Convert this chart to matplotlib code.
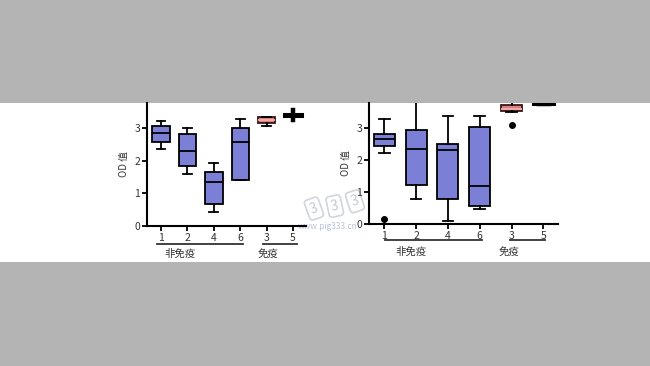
import matplotlib.pyplot as plt
from matplotlib.patches import Rectangle
import matplotlib.transforms as mtransforms

plt.rcParams['font.family'] = ['Noto Sans CJK SC', 'DejaVu Sans']

# group order on the x axis
groups = ['1', '2', '4', '6', '3', '5']

# left chart: box statistics
left_whislo = [2.35, 1.60, 0.42, 1.40, 3.07, 3.25]
left_q1 = [2.56, 1.85, 0.67, 1.41, 3.15, 3.38]
left_med = [2.84, 2.30, 1.35, 2.57, 3.24, 3.40]
left_q3 = [3.05, 2.81, 1.64, 3.00, 3.33, 3.42]
left_whishi = [3.22, 3.00, 1.94, 3.29, 3.33, 3.56]
left_fliers = [[], [], [], [], [], []]

# right chart
right_whislo = [2.21, 0.77, 0.10, 0.48, 3.50, 3.77]
right_q1 = [2.44, 1.22, 0.77, 0.56, 3.53, 3.77]
right_med = [2.66, 2.34, 2.32, 1.19, 3.61, 3.80]
right_q3 = [2.81, 2.93, 2.49, 3.04, 3.74, 3.85]
right_whishi = [3.28, 3.90, 3.39, 3.39, 3.90, 3.95]
right_fliers = [[0.17], [], [], [], [3.11], []]

non_immune = '非免疫'
immune = '免疫'
ylabel = 'OD 值'


def draw(ax, whislo, q1, med, q3, whishi, fliers, xlim, ylim,
         br1, br2, lab1, lab2, br_y, lab_y, plus_last=False):
    stats = []
    for i in range(len(groups)):
        stats.append(dict(whislo=whislo[i], q1=q1[i], med=med[i], q3=q3[i],
                          whishi=whishi[i], fliers=fliers[i]))
    pos = list(range(1, len(groups) + 1))
    parts = ax.bxp(stats, positions=pos, widths=0.66, patch_artist=True,
                   showfliers=True,
                   boxprops=dict(edgecolor='black', linewidth=1.3),
                   medianprops=dict(color='black', linewidth=1.3),
                   whiskerprops=dict(color='black', linewidth=1.3),
                   capprops=dict(color='black', linewidth=1.3),
                   flierprops=dict(marker='o', markerfacecolor='black',
                                   markeredgecolor='black', markersize=4))
    for i, b in enumerate(parts['boxes']):
        if i < 4:
            b.set_facecolor('#7b7fd6')
        elif i == 4:
            b.set_facecolor('#d97f7f')
            b.set_edgecolor('#3a1616')
        else:
            b.set_facecolor('black')
            b.set_linewidth(2.2)
    parts['medians'][4].set_color('#f2b0b0')
    parts['medians'][5].set_linewidth(2.5)
    for w in parts['whiskers'][10:]:
        w.set_linewidth(3.2)
    if plus_last:
        for c in parts['caps'][10:]:
            c.set_visible(False)
    else:
        for c in parts['caps'][10:]:
            c.set_linewidth(2.5)

    ax.set_xlim(*xlim)
    ax.set_ylim(*ylim)
    ax.set_xticks(pos)
    ax.set_xticklabels(groups)
    ax.set_yticks([0, 1, 2, 3])
    for s in ['top', 'right']:
        ax.spines[s].set_visible(False)
    for s in ['left', 'bottom']:
        ax.spines[s].set_linewidth(1.5)
    ax.tick_params(axis='both', direction='out', length=3.5, width=1.3,
                   labelsize=7.5, colors='black', labelcolor='#333333', pad=1.5)
    ax.set_ylabel(ylabel, fontsize=7, color='#333333', labelpad=4)

    trans = mtransforms.blended_transform_factory(ax.transData, ax.transAxes)
    ax.plot(br1, [br_y, br_y], color='#333333', lw=1.3, transform=trans,
            clip_on=False)
    ax.plot(br2, [br_y, br_y], color='#333333', lw=1.3, transform=trans,
            clip_on=False)
    ax.text(lab1, lab_y, non_immune, transform=trans, ha='center',
            va='center', fontsize=7.5, color='#333333')
    ax.text(lab2, lab_y, immune, transform=trans, ha='center',
            va='center', fontsize=7.5, color='#333333')


fig = plt.figure(figsize=(6.5, 3.66), dpi=100, facecolor='#b4b4b4')
fig.patches.append(Rectangle((0, 0.2842), 1, 0.4344, transform=fig.transFigure,
                             facecolor='white', edgecolor='none', zorder=-10))

# faint watermark tiles
for wx, wy, rot in [(0.483, 0.43, 20), (0.515, 0.437, 12), (0.546, 0.45, 18)]:
    fig.text(wx, wy, '3', fontsize=10, color='#c3cad6', rotation=rot,
             ha='center', va='center', zorder=-5,
             bbox=dict(boxstyle='round,pad=0.25', facecolor='none',
                       edgecolor='#d0d5de', linewidth=1.2))
fig.text(0.458, 0.375, 'www.pig333.cn', fontsize=6, color='#b9c4d6',
         zorder=-5)

ax1 = fig.add_axes([0.2262, 0.3825, 0.2446, 0.3361])
ax1.set_facecolor('none')
draw(ax1, left_whislo, left_q1, left_med, left_q3, left_whishi, left_fliers,
     (0.47, 6.49), (0, 3.77), [0.84, 4.12], [4.87, 6.14], 1.72, 5.05,
     -0.146, -0.228, plus_last=True)

ax2 = fig.add_axes([0.5677, 0.388, 0.2908, 0.3306])
ax2.set_facecolor('none')
draw(ax2, right_whislo, right_q1, right_med, right_q3, right_whishi,
     right_fliers, (0.52, 6.46), (0, 3.79), [1.02, 4.06], [4.95, 6.05],
     1.84, 4.92, -0.132, -0.229)

fig.savefig('out.png', dpi=100, facecolor=fig.get_facecolor())
